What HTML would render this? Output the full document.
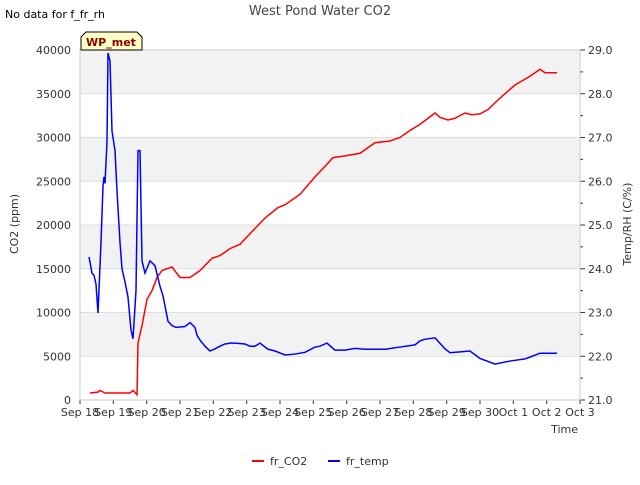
<!DOCTYPE html>
<html><head><meta charset="utf-8"><style>
body{margin:0;background:#fff;font-family:"Liberation Sans","DejaVu Sans",sans-serif}
svg text{font-family:"DejaVu Sans","Liberation Sans",sans-serif}
</style></head><body>
<svg id="c" width="640" height="480" xmlns="http://www.w3.org/2000/svg">
<text x="5" y="18" font-size="11" fill="#000">No data for f_fr_rh</text>
<text x="320" y="15" font-size="13" fill="#444" text-anchor="middle">West Pond Water CO2</text>
<g id="bands"></g><g id="grid"></g><g id="axes"></g><g id="series"></g>
<g>
<path d="M81,50 L81,37 L86,32 L137,32 L142,37 L142,50 Z" fill="#ffffc8" stroke="#000" stroke-width="1"/>
<text x="111" y="46" font-size="11" font-weight="bold" fill="#8b0000" text-anchor="middle">WP_met</text>
</g>
<text x="18" y="224" font-size="11" fill="#333" text-anchor="middle" transform="rotate(-90 18 224)">CO2 (ppm)</text>
<text x="631" y="224" font-size="11" fill="#333" text-anchor="middle" transform="rotate(-90 631 224)">Temp/RH (C/%)</text>
<text x="578" y="433" font-size="11" fill="#333" text-anchor="end">Time</text>
<g>
<g><line x1="252" y1="461" x2="264" y2="461" stroke="#f00" stroke-width="2"/><text x="270" y="465" font-size="11" fill="#333">fr_CO2</text></g>
<g><line x1="328" y1="461" x2="340" y2="461" stroke="#00f" stroke-width="2"/><text x="346" y="465" font-size="11" fill="#333">fr_temp</text></g>
</g>
</svg>
<script>
const xLabels=["Sep 18","Sep 19","Sep 20","Sep 21","Sep 22","Sep 23","Sep 24","Sep 25","Sep 26","Sep 27","Sep 28","Sep 29","Sep 30","Oct 1","Oct 2","Oct 3"];
const leftTicks=[0,5000,10000,15000,20000,25000,30000,35000,40000];
const rightTicks=[21,22,23,24,25,26,27,28,29];
const co2Days=[0.3,0.54,0.6,0.75,1.5,1.59,1.71,1.74,1.86,2.01,2.16,2.31,2.46,2.76,3.0,3.3,3.6,3.96,4.2,4.5,4.8,5.1,5.55,5.94,6.15,6.6,7.05,7.35,7.59,7.95,8.4,8.85,9.3,9.6,9.9,10.2,10.65,10.8,11.04,11.25,11.55,11.76,12.0,12.24,12.6,13.05,13.5,13.8,13.95,14.31];
const co2Vals=[800,900,1100,800,800,1100,600,6500,8500,11500,12500,14000,14800,15200,14000,14000,14800,16200,16500,17300,17800,19000,20800,22000,22300,23500,25500,26700,27700,27900,28200,29400,29600,30000,30800,31500,32800,32300,32000,32200,32800,32600,32700,33200,34500,36000,37000,37800,37400,37400];
const tempDays=[0.27,0.36,0.42,0.48,0.54,0.63,0.69,0.72,0.75,0.81,0.84,0.9,0.96,1.05,1.11,1.2,1.26,1.35,1.44,1.53,1.59,1.68,1.74,1.8,1.86,1.95,2.1,2.25,2.4,2.49,2.55,2.64,2.76,2.88,3.15,3.3,3.45,3.51,3.6,3.75,3.9,4.05,4.2,4.35,4.5,4.65,4.95,5.1,5.25,5.4,5.64,5.85,6.15,6.45,6.75,7.05,7.2,7.41,7.65,7.95,8.25,8.55,8.85,9.15,9.6,10.05,10.2,10.35,10.65,10.95,11.1,11.4,11.7,12.0,12.45,12.9,13.35,13.5,13.8,14.31];
const tempVals=[24.27,23.9,23.85,23.65,22.99,24.6,25.9,26.1,25.95,26.9,28.93,28.75,27.15,26.7,25.78,24.6,24.0,23.7,23.35,22.6,22.4,23.5,26.7,26.7,24.18,23.9,24.18,24.07,23.6,23.38,23.15,22.8,22.7,22.66,22.68,22.77,22.66,22.48,22.37,22.23,22.12,22.17,22.23,22.28,22.3,22.3,22.28,22.23,22.23,22.3,22.16,22.12,22.03,22.05,22.09,22.21,22.23,22.3,22.14,22.14,22.18,22.16,22.16,22.16,22.21,22.26,22.35,22.39,22.42,22.17,22.08,22.1,22.12,21.95,21.82,21.89,21.94,21.98,22.07,22.07];
const X0=80,X1=580,Y0=400,Y1=50,NS="http://www.w3.org/2000/svg";
const xs=d=>X0+d*(X1-X0)/15;
const yL=v=>Y0-v*(Y0-Y1)/40000;
const yR=v=>Y0-(v-21)*(Y0-Y1)/8;
function mk(p,t,a){const e=document.createElementNS(NS,t);for(const k in a)e.setAttribute(k,a[k]);p.appendChild(e);return e;}
const bands=document.getElementById('bands'),grid=document.getElementById('grid'),axes=document.getElementById('axes'),ser=document.getElementById('series');
mk(bands,'rect',{x:X0,y:Y1,width:X1-X0,height:Y0-Y1,fill:'#fff'});
for(let i=0;i<8;i+=2){const top=40000-i*5000;const b=mk(bands,'rect',{x:X0,y:yL(top),width:X1-X0,height:yL(top-5000)-yL(top),fill:'#f2f2f2'});

}
leftTicks.forEach(v=>{const y=yL(v);
if(v>0&&v<40000){const g=mk(grid,'line',{x1:X0,x2:X1,y1:y,y2:y,stroke:'#ddd','stroke-width':1});

}
const t=mk(axes,'text',{x:X0-9,y:y+4,'font-size':11,fill:'#333','text-anchor':'end'});t.textContent=v;

});
rightTicks.forEach(v=>{const y=yR(v);mk(axes,'line',{x1:X1,x2:X1+5,y1:y,y2:y,stroke:'#333'});
if(v<29)mk(axes,'line',{x1:X1,x2:X1+3,y1:yR(v+0.5),y2:yR(v+0.5),stroke:'#333'});
const t=mk(axes,'text',{x:X1+8,y:y+4,'font-size':11,fill:'#333'});t.textContent=v.toFixed(1);

});
xLabels.forEach((l,i)=>{const x=xs(i);mk(axes,'line',{x1:x,x2:x,y1:Y0,y2:Y0+4,stroke:'#333'});
const t=mk(axes,'text',{x:x,y:Y0+16,'font-size':11,fill:'#333','text-anchor':'middle'});t.textContent=l;

});
mk(axes,'rect',{x:X0,y:Y1,width:X1-X0,height:Y0-Y1,fill:'none',stroke:'#ccc'});
const co2=mk(ser,'polyline',{points:co2Days.map((d,i)=>xs(d)+','+yL(co2Vals[i])).join(' '),fill:'none',stroke:'#f00','stroke-width':1.5});


const tp=mk(ser,'polyline',{points:tempDays.map((d,i)=>xs(d)+','+yR(tempVals[i])).join(' '),fill:'none',stroke:'#00f','stroke-width':1.5});


</script>
</body></html>
